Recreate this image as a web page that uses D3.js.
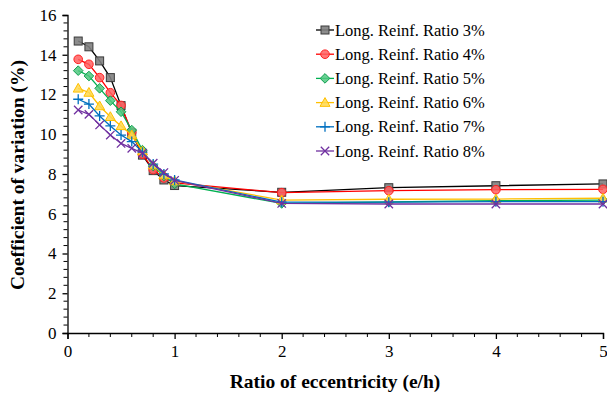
<!DOCTYPE html>
<html><head><meta charset="utf-8">
<script src="https://cdn.jsdelivr.net/npm/d3@7/dist/d3.min.js"></script>
<style>body{margin:0;background:#fff}svg{display:block}</style>
</head><body>
<svg id="c" width="607" height="397"></svg>
<script>
const xValues = [0.1,0.2,0.3,0.4,0.5,0.6,0.7,0.8,0.9,1.0,2,3,4,5];
const ratio3 = [14.69,14.40,13.69,12.85,11.44,10.05,8.95,8.17,7.70,7.42,7.08,7.31,7.41,7.50];
const ratio4 = [13.77,13.52,12.85,12.09,11.45,10.10,9.00,8.22,7.80,7.55,7.06,7.16,7.21,7.23];
const ratio5 = [13.20,12.93,12.31,11.69,11.13,10.21,9.20,8.40,7.90,7.50,6.52,6.59,6.66,6.69];
const ratio6 = [12.31,12.10,11.42,10.88,10.42,9.96,9.15,8.45,7.95,7.65,6.69,6.73,6.74,6.78];
const ratio7 = [11.76,11.52,10.92,10.42,9.96,9.63,9.10,8.50,8.00,7.70,6.58,6.58,6.61,6.61];
const ratio8 = [11.22,11.00,10.47,9.96,9.54,9.29,9.05,8.54,8.07,7.68,6.52,6.49,6.49,6.49];
const seriesNames = ["Long. Reinf. Ratio 3%","Long. Reinf. Ratio 4%","Long. Reinf. Ratio 5%","Long. Reinf. Ratio 6%","Long. Reinf. Ratio 7%","Long. Reinf. Ratio 8%"];
const xTicks = [0,1,2,3,4,5];
const yTicks = [0,2,4,6,8,10,12,14,16];

const FONT = "font-family:'Liberation Serif','DejaVu Serif','Times New Roman',Times,serif";

const styles = [
  {line:"#000000", fill:"#7f7f7f", stroke:"#3a3a3a", shape:"square"},
  {line:"#ff0000", fill:"#ff6060", stroke:"#ff2020", shape:"circle"},
  {line:"#00b050", fill:"#50c880", stroke:"#10a050", shape:"diamond"},
  {line:"#ffc000", fill:"#ffd850", stroke:"#ffc000", shape:"triangle"},
  {line:"#0070c0", fill:"none", stroke:"#0070c0", shape:"plus"},
  {line:"#7030a0", fill:"none", stroke:"#7030a0", shape:"cross"}
];
const allSeries = [ratio3,ratio4,ratio5,ratio6,ratio7,ratio8];

const svg = d3.select("#c");
const x = d3.scaleLinear().domain([0,5]).range([67.5,603]);
const y = d3.scaleLinear().domain([0,16]).range([333,15]);

// X axis
const xAxis = d3.axisBottom(x).tickValues(xTicks).tickFormat(d3.format("d")).tickSize(6).tickPadding(6);
const gx = svg.append("g").attr("transform","translate(0,333)").call(xAxis);
gx.attr("font-family",null);
gx.selectAll(".tick text").attr("style",FONT).attr("font-size",17).attr("fill","#000");
gx.select(".domain").attr("stroke","#000").attr("stroke-width",1.3);
gx.selectAll(".tick line").attr("stroke","#000").attr("stroke-width",1.3);
const xMinor = d3.range(0,5.0001,0.2).filter(v=>Math.abs(v-Math.round(v))>1e-6);
svg.append("g").selectAll("line").data(xMinor).join("line")
  .attr("x1",d=>x(d)).attr("x2",d=>x(d)).attr("y1",333).attr("y2",337)
  .attr("stroke","#000").attr("stroke-width",1);

// Y axis
const yAxis = d3.axisLeft(y).tickValues(yTicks).tickFormat(d3.format("d")).tickSize(5).tickPadding(6);
const gy = svg.append("g").attr("transform","translate(67.5,0)").call(yAxis);
gy.attr("font-family",null);
gy.selectAll(".tick text").attr("style",FONT).attr("font-size",17).attr("fill","#000");
gy.select(".domain").attr("stroke","#000").attr("stroke-width",1.3);
gy.selectAll(".tick line").attr("stroke","#000").attr("stroke-width",1.3);
const yMinor = d3.range(0,16.0001,0.4).filter(v=>Math.abs(v/2-Math.round(v/2))>1e-6);
svg.append("g").selectAll("line").data(yMinor).join("line")
  .attr("x1",63.5).attr("x2",67.5).attr("y1",d=>y(d)).attr("y2",d=>y(d))
  .attr("stroke","#000").attr("stroke-width",1);

// Titles
svg.append("text").attr("x",335).attr("y",388).attr("text-anchor","middle").attr("style",FONT)
  .attr("font-weight","bold").attr("font-size",19.5).text("Ratio of eccentricity (e/h)");
svg.append("text").attr("transform","translate(24,175) rotate(-90)").attr("text-anchor","middle").attr("style",FONT)
  .attr("font-weight","bold").attr("font-size",19.5).text("Coefficient of variation (%)");

function drawMarker(g, st, cx, cy){
  const s = 4;
  if(st.shape==="square"){
    g.append("rect").attr("x",cx-s).attr("y",cy-s).attr("width",2*s).attr("height",2*s)
      .attr("fill",st.fill).attr("stroke",st.stroke).attr("stroke-width",1).attr("fill-opacity",0.9);
  } else if(st.shape==="circle"){
    g.append("circle").attr("cx",cx).attr("cy",cy).attr("r",4.3)
      .attr("fill",st.fill).attr("stroke",st.stroke).attr("stroke-width",1).attr("fill-opacity",0.85);
  } else if(st.shape==="diamond"){
    const r=4.8;
    g.append("path").attr("d",`M${cx},${cy-r}L${cx+r},${cy}L${cx},${cy+r}L${cx-r},${cy}Z`)
      .attr("fill",st.fill).attr("stroke",st.stroke).attr("stroke-width",1).attr("fill-opacity",0.85);
  } else if(st.shape==="triangle"){
    const r=5;
    g.append("path").attr("d",`M${cx},${cy-r}L${cx+r},${cy+r*0.75}L${cx-r},${cy+r*0.75}Z`)
      .attr("fill",st.fill).attr("stroke",st.stroke).attr("stroke-width",1).attr("fill-opacity",0.85);
  } else if(st.shape==="plus"){
    const r=5;
    g.append("path").attr("d",`M${cx-r},${cy}H${cx+r}M${cx},${cy-r}V${cy+r}`)
      .attr("stroke",st.stroke).attr("stroke-width",1.3).attr("fill","none");
  } else {
    const r=4.2;
    g.append("path").attr("d",`M${cx-r},${cy-r}L${cx+r},${cy+r}M${cx-r},${cy+r}L${cx+r},${cy-r}`)
      .attr("stroke",st.stroke).attr("stroke-width",1.3).attr("fill","none");
  }
}

const line = d3.line().x(d=>x(d[0])).y(d=>y(d[1]));
allSeries.forEach((vals,i)=>{
  const st = styles[i];
  const pts = xValues.map((xv,j)=>[xv,vals[j]]);
  const g = svg.append("g");
  g.append("path").datum(pts).attr("d",line).attr("fill","none")
    .attr("stroke",st.line).attr("stroke-width",1.3);
  pts.forEach(p=>drawMarker(g,st,x(p[0]),y(p[1])));
});

// Legend
const lg = svg.append("g");
seriesNames.forEach((name,i)=>{
  const cy = 30 + i*24.2;
  const st = styles[i];
  lg.append("line").attr("x1",316).attr("x2",334).attr("y1",cy).attr("y2",cy)
    .attr("stroke",st.line).attr("stroke-width",1.3);
  drawMarker(lg,st,325,cy);
  lg.append("text").attr("x",335).attr("y",cy+5.5).attr("style",FONT)
    .attr("font-size",16.5).attr("fill","#000").text(name);
});
</script>
</body></html>
